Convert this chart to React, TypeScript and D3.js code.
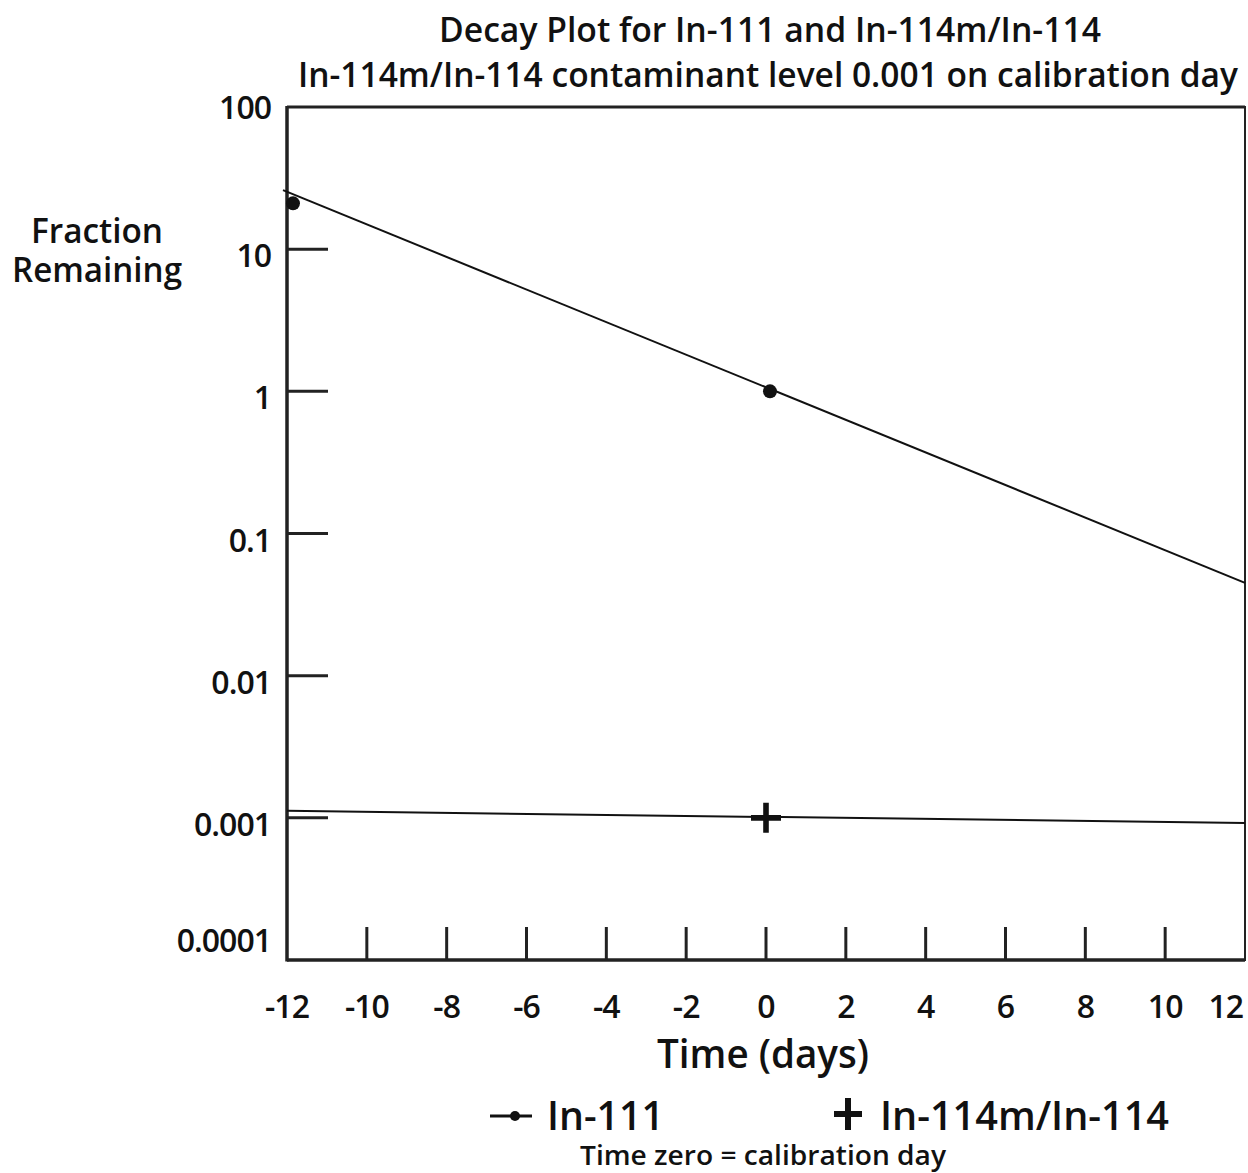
import React, { useEffect, useRef } from "react";
import * as d3 from "d3";

// days from calibration
const xTicks = [-12, -10, -8, -6, -4, -2, 0, 2, 4, 6, 8, 10, 12];
const yTicks = [100, 10, 1, 0.1, 0.01, 0.001, 0.0001];
const yTickLabels = ["100", "10", "1", "0.1", "0.01", "0.001", "0.0001"];

// In-111 decay line and marked points
const in111LineDays = [-12.1, 12];
const in111LineFrac = [26, 0.045];
const in111PointDays = [-11.85, 0.1];
const in111PointFrac = [21, 1];

// In-114m/In-114 contaminant
const in114LineDays = [-12, 12];
const in114LineFrac = [0.00112, 0.00092];
const in114PointDays = [0];
const in114PointFrac = [0.001];

const FONT = "'Open Sans', 'DejaVu Sans Condensed', sans-serif";

function App() {
  const svgRef = useRef<SVGSVGElement>(null);

  useEffect(() => {
    const w = 1248;
    const h = 1173;
    const m = { top: 107, right: 3, bottom: 213, left: 287 };
    const svg = d3.select(svgRef.current);
    svg.selectAll("*").remove();

    const x = d3.scaleLinear().domain([-12, 12]).range([m.left, w - m.right]);
    const y = d3.scaleLog().domain([0.0001, 100]).range([h - m.bottom, m.top]);

    const g = svg.append("g");

    // frame
    g.append("rect")
      .attr("x", x(-12))
      .attr("y", y(100))
      .attr("width", x(12) - x(-12))
      .attr("height", y(0.0001) - y(100))
      .attr("fill", "none")
      .attr("stroke", "#222")
      .attr("stroke-width", 2);
    g.append("line")
      .attr("x1", x(-12)).attr("x2", x(-12))
      .attr("y1", y(100) - 1).attr("y2", y(0.0001) + 1.5)
      .attr("stroke", "#222").attr("stroke-width", 3.5);
    g.append("line")
      .attr("x1", x(-12)).attr("x2", x(12))
      .attr("y1", y(0.0001)).attr("y2", y(0.0001))
      .attr("stroke", "#222").attr("stroke-width", 3.5);
    g.append("line")
      .attr("x1", x(-12)).attr("x2", x(12))
      .attr("y1", y(100)).attr("y2", y(100))
      .attr("stroke", "#222").attr("stroke-width", 3);

    // y ticks (inward)
    g.selectAll(".ytick")
      .data(yTicks.slice(1, -1))
      .join("line")
      .attr("x1", x(-12))
      .attr("x2", x(-12) + 41)
      .attr("y1", (d) => y(d))
      .attr("y2", (d) => y(d))
      .attr("stroke", "#222")
      .attr("stroke-width", 3);

    g.selectAll(".ylab")
      .data(yTicks)
      .join("text")
      .attr("x", x(-12) - 16)
      .attr("y", (d, i) => y(d) + (i === 0 ? 12 : i === yTicks.length - 1 ? -8 : 18))
      .attr("text-anchor", "end")
      .attr("font-family", FONT)
      .attr("font-weight", 600)
      .attr("font-size", 32)
      .attr("letter-spacing", -1)
      .attr("fill", "#111")
      .text((d, i) => yTickLabels[i]);

    // x ticks (inward)
    g.selectAll(".xtick")
      .data(xTicks.slice(1, -1))
      .join("line")
      .attr("x1", (d) => x(d))
      .attr("x2", (d) => x(d))
      .attr("y1", y(0.0001))
      .attr("y2", y(0.0001) - 33)
      .attr("stroke", "#222")
      .attr("stroke-width", 3);

    g.selectAll(".xlab")
      .data(xTicks)
      .join("text")
      .attr("x", (d, i) => (i === xTicks.length - 1 ? x(d) - 2 : x(d)))
      .attr("y", y(0.0001) + 58)
      .attr("text-anchor", (d, i) => (i === xTicks.length - 1 ? "end" : "middle"))
      .attr("font-family", FONT)
      .attr("font-weight", 600)
      .attr("font-size", 32)
      .attr("letter-spacing", -1)
      .attr("fill", "#111")
      .text((d) => String(d));

    const lineGen = (days: number[], frac: number[]) =>
      d3
        .line<number>()
        .x((d) => x(d))
        .y((d, i) => y(frac[i]))(days);

    g.append("path")
      .attr("d", lineGen(in111LineDays, in111LineFrac))
      .attr("fill", "none")
      .attr("stroke", "#111")
      .attr("stroke-width", 2);
    g.append("path")
      .attr("d", lineGen(in114LineDays, in114LineFrac))
      .attr("fill", "none")
      .attr("stroke", "#111")
      .attr("stroke-width", 2);

    g.selectAll(".dot")
      .data(in111PointDays)
      .join("circle")
      .attr("cx", (d) => x(d))
      .attr("cy", (d, i) => y(in111PointFrac[i]))
      .attr("r", 7)
      .attr("fill", "#111");

    g.selectAll(".plus")
      .data(in114PointDays)
      .join("path")
      .attr("transform", (d, i) => `translate(${x(d)},${y(in114PointFrac[i])})`)
      .attr("d", "M-15,-2.8H15V2.8H-15Z M-2.8,-15H2.8V15H-2.8Z")
      .attr("fill", "#111");

    // titles
    const txt = (tx: number, ty: number, s: string, size: number, len?: number, anchor = "middle") => {
      const t = g
        .append("text")
        .attr("x", tx)
        .attr("y", ty)
        .attr("text-anchor", anchor)
        .attr("font-family", FONT)
        .attr("font-weight", 600)
        .attr("font-size", size)
        .attr("fill", "#111")
        .text(s);
      if (len) t.attr("textLength", len).attr("lengthAdjust", "spacingAndGlyphs");
      return t;
    };

    txt(770, 42, "Decay Plot for In-111 and In-114m/In-114", 35, 662);
    txt(768, 87, "In-114m/In-114 contaminant level 0.001 on calibration day", 35, 940);
    txt(97, 243, "Fraction", 34, 132);
    txt(97, 282, "Remaining", 34, 170);
    txt(763, 1068, "Time (days)", 40, 212);

    // legend
    g.append("line")
      .attr("x1", 490).attr("x2", 532)
      .attr("y1", 1116).attr("y2", 1116)
      .attr("stroke", "#111").attr("stroke-width", 3);
    g.append("circle").attr("cx", 515).attr("cy", 1116).attr("r", 5).attr("fill", "#111");
    txt(547, 1130, "In-111", 40, 117, "start");
    g.append("path")
      .attr("transform", "translate(848,1114)")
      .attr("d", "M-14,-3H14V3H-14Z M-3,-16H3V16H-3Z")
      .attr("fill", "#111");
    txt(880, 1130, "In-114m/In-114", 40, 289, "start");
    txt(763, 1165, "Time zero = calibration day", 27, 366);
  }, []);

  return (
    <div>
      <style>{`body{margin:0}`}</style>
      <svg ref={svgRef} width={1248} height={1173} style={{ display: "block", background: "#fff" }}></svg>
    </div>
  );
}

export default App;
